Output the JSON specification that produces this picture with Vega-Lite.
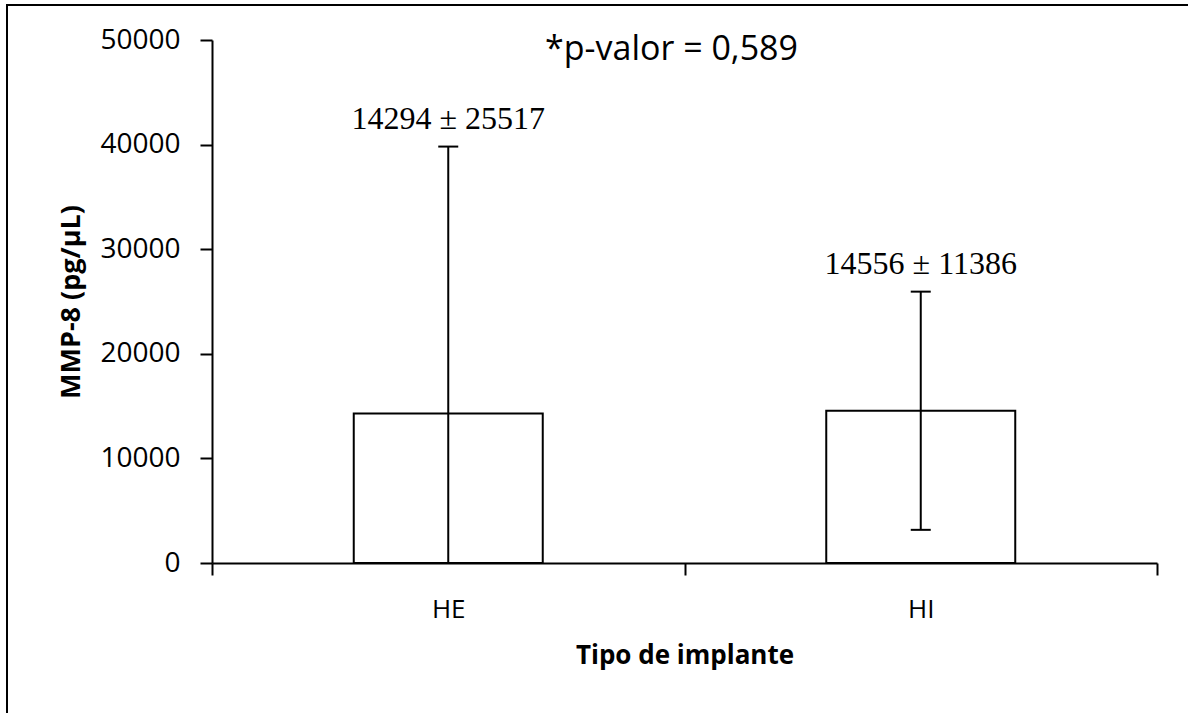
{
  "$schema": "https://vega.github.io/schema/vega-lite/v6.json",
  "autosize": {"type": "none"},
  "padding": {"left": 7, "top": 5, "right": -20, "bottom": -20},
  "width": 1201,
  "height": 728,
  "background": "white",
  "title": {
    "text": "*p-valor = 0,589",
    "anchor": "middle",
    "dx": 64,
    "offset": -79,
    "baseline": "middle",
    "font": "Open Sans",
    "fontSize": 34,
    "fontWeight": "normal",
    "color": "black"
  },
  "data": {
    "values": [
      {"tipo": "HE", "media": 14294, "de": 25517, "superior": 39811, "inferior": -11223, "rotulo": "14294 ± 25517"},
      {"tipo": "HI", "media": 14556, "de": 11386, "superior": 25942, "inferior": 3170, "rotulo": "14556 ± 11386"}
    ]
  },
  "encoding": {
    "x": {
      "field": "tipo",
      "type": "nominal",
      "sort": ["HE", "HI"],
      "scale": {"range": [205, 1150], "paddingInner": 0, "paddingOuter": 0},
      "axis": {
        "orient": "bottom",
        "offset": -170,
        "tickSize": 12,
        "tickBand": "extent",
        "labelAngle": 0,
        "labelFontSize": 26,
        "labelPadding": 21,
        "title": "Tipo de implante",
        "titleFontSize": 26,
        "titleFontWeight": "bold",
        "titlePadding": 20
      }
    }
  },
  "layer": [
    {
      "mark": {"type": "bar", "width": {"band": 0.4}, "fill": "white", "stroke": "black", "strokeWidth": 2},
      "encoding": {
        "y": {
          "field": "media",
          "type": "quantitative",
          "scale": {"domain": [0, 50000], "range": [558, 35], "nice": false, "clamp": true, "zero": true},
          "axis": {
            "orient": "left",
            "offset": -205,
            "tickSize": 12,
            "values": [0, 10000, 20000, 30000, 40000, 50000],
            "format": "d",
            "labelFontSize": 28,
            "labelPadding": 20,
            "title": "MMP-8 (pg/µL)",
            "titleFontSize": 27,
            "titleFontWeight": "bold",
            "titlePadding": 14
          }
        }
      }
    },
    {
      "mark": {"type": "rule", "color": "black", "strokeWidth": 2},
      "encoding": {
        "y": {"field": "inferior", "type": "quantitative"},
        "y2": {"field": "superior"}
      }
    },
    {
      "mark": {"type": "tick", "color": "black", "size": 20, "thickness": 2, "opacity": 1},
      "encoding": {
        "y": {"field": "superior", "type": "quantitative"}
      }
    },
    {
      "transform": [{"filter": "datum.inferior > 0"}],
      "mark": {"type": "tick", "color": "black", "size": 20, "thickness": 2, "opacity": 1},
      "encoding": {
        "y": {"field": "inferior", "type": "quantitative"}
      }
    },
    {
      "mark": {"type": "text", "font": "Liberation Serif", "fontSize": 32, "color": "black", "baseline": "middle", "align": "center", "dy": -28},
      "encoding": {
        "y": {"field": "superior", "type": "quantitative"},
        "text": {"field": "rotulo"}
      }
    }
  ],
  "config": {
    "view": {"stroke": "black", "strokeWidth": 2},
    "axis": {
      "grid": false,
      "domainColor": "black",
      "domainWidth": 2,
      "tickColor": "black",
      "tickWidth": 2,
      "labelColor": "black",
      "titleColor": "black",
      "labelFont": "Open Sans",
      "titleFont": "Open Sans"
    }
  }
}
